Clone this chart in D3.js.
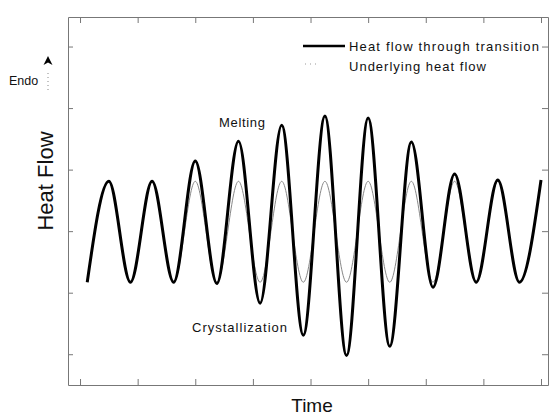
<!DOCTYPE html>
<html>
<head>
<meta charset="utf-8">
<script src="https://cdn.jsdelivr.net/npm/d3@7"></script>
<style>
  body { margin: 0; background: #fff; }
  svg text { font-family: "Liberation Sans", Arial, sans-serif; fill: #111; }
</style>
</head>
<body>
<svg id="chart" width="553" height="417"></svg>
<script>
//=========================== data ============================================

// time of each turning point of the modulated signal (s)
var times = [10, 40, 70, 100, 130, 160, 190, 220, 250, 280, 310,
             340, 370, 400, 430, 460, 490, 520, 550, 580, 610, 640];

// heat flow through the transition at those turning points
var heatFlow = [1.17, 2.81, 1.17, 2.81, 1.17, 3.14, 1.15, 3.46, 0.83, 3.72, 0.31,
                3.87, -0.02, 3.84, 0.13, 3.45, 1.09, 2.93, 1.17, 2.83, 1.17, 2.83];

// underlying (reversing) heat flow
var underlying = [1.17, 2.81, 1.17, 2.81, 1.17, 2.81, 1.17, 2.81, 1.17, 2.81, 1.17,
                  2.81, 1.17, 2.81, 1.17, 2.81, 1.17, 2.81, 1.17, 2.81, 1.17, 2.81];

var timeTicks = [0, 80, 160, 240, 320, 400, 480, 560, 640];
var flowTicks = [0, 1, 2, 3, 4, 5];

//=========================== layout ==========================================

var svg = d3.select("#chart");

var plotLeft = 68, plotRight = 548, plotTop = 17, plotBottom = 385;

var x = d3.scaleLinear().domain([-16.7, 649.7]).range([plotLeft, plotRight]);
var y = d3.scaleLinear().domain([-0.5, 5.48]).range([plotBottom, plotTop]);

var axisColor = "#777";

function styleAxis(g) {
    g.select(".domain").attr("stroke", axisColor).attr("stroke-width", 1);
    g.selectAll(".tick line").attr("stroke", axisColor).attr("stroke-width", 1);
    g.selectAll(".tick text").remove();
}

svg.append("g")
    .attr("transform", "translate(0," + plotBottom + ")")
    .call(d3.axisBottom(x).tickValues(timeTicks).tickSize(-6).tickSizeOuter(0).tickFormat(""))
    .call(styleAxis);

svg.append("g")
    .attr("transform", "translate(0," + plotTop + ")")
    .call(d3.axisTop(x).tickValues(timeTicks).tickSize(-6).tickSizeOuter(0).tickFormat(""))
    .call(styleAxis);

svg.append("g")
    .attr("transform", "translate(" + plotLeft + ",0)")
    .call(d3.axisLeft(y).tickValues(flowTicks).tickSize(-5).tickSizeOuter(0).tickFormat(""))
    .call(styleAxis);

svg.append("g")
    .attr("transform", "translate(" + plotRight + ",0)")
    .call(d3.axisRight(y).tickValues(flowTicks).tickSize(-6).tickSizeOuter(0).tickFormat(""))
    .call(styleAxis);

//=========================== curves ==========================================

var line = function(values) {
    return d3.line()
        .x(function(d, i) { return x(times[i]); })
        .y(function(d) { return y(d); })
        .curve(d3.curveMonotoneX)(values);
};

svg.append("path")
    .attr("d", line(underlying))
    .attr("fill", "none")
    .attr("stroke", "#888")
    .attr("stroke-width", 1);

svg.append("path")
    .attr("d", line(heatFlow))
    .attr("fill", "none")
    .attr("stroke", "#000")
    .attr("stroke-width", 3)
    .attr("stroke-linejoin", "round");

//=========================== legend ==========================================

svg.append("line")
    .attr("x1", 303).attr("x2", 345)
    .attr("y1", 46).attr("y2", 46)
    .attr("stroke", "#000").attr("stroke-width", 2.5);

svg.append("line")
    .attr("x1", 305).attr("x2", 320)
    .attr("y1", 64).attr("y2", 64)
    .attr("stroke", "#999").attr("stroke-width", 1)
    .attr("stroke-dasharray", "1,4");

svg.append("text")
    .attr("x", 349).attr("y", 51)
    .attr("font-size", 13)
    .attr("textLength", 190).attr("lengthAdjust", "spacing")
    .text("Heat flow through transition");

svg.append("text")
    .attr("x", 349).attr("y", 71)
    .attr("font-size", 13)
    .attr("textLength", 137).attr("lengthAdjust", "spacing")
    .text("Underlying heat flow");

//=========================== annotations =====================================

svg.append("text")
    .attr("x", 219).attr("y", 127)
    .attr("font-size", 13)
    .attr("textLength", 46).attr("lengthAdjust", "spacing")
    .text("Melting");

svg.append("text")
    .attr("x", 192).attr("y", 332)
    .attr("font-size", 13)
    .attr("textLength", 95).attr("lengthAdjust", "spacing")
    .text("Crystallization");

// endo arrow
svg.append("path")
    .attr("d", "M48,56 L52.5,65 L48,62.5 L43.5,65 Z")
    .attr("fill", "#000");

svg.append("line")
    .attr("x1", 48).attr("x2", 48)
    .attr("y1", 73).attr("y2", 91)
    .attr("stroke", "#888").attr("stroke-width", 1)
    .attr("stroke-dasharray", "1,3");

svg.append("text")
    .attr("x", 9).attr("y", 85)
    .attr("font-size", 12.5)
    .text("Endo");

// axis titles
svg.append("text")
    .attr("x", 312).attr("y", 412)
    .attr("text-anchor", "middle")
    .attr("font-size", 19)
    .text("Time");

svg.append("text")
    .attr("transform", "translate(53,181) rotate(-90)")
    .attr("text-anchor", "middle")
    .attr("font-size", 22)
    .text("Heat Flow");
</script>
</body>
</html>
